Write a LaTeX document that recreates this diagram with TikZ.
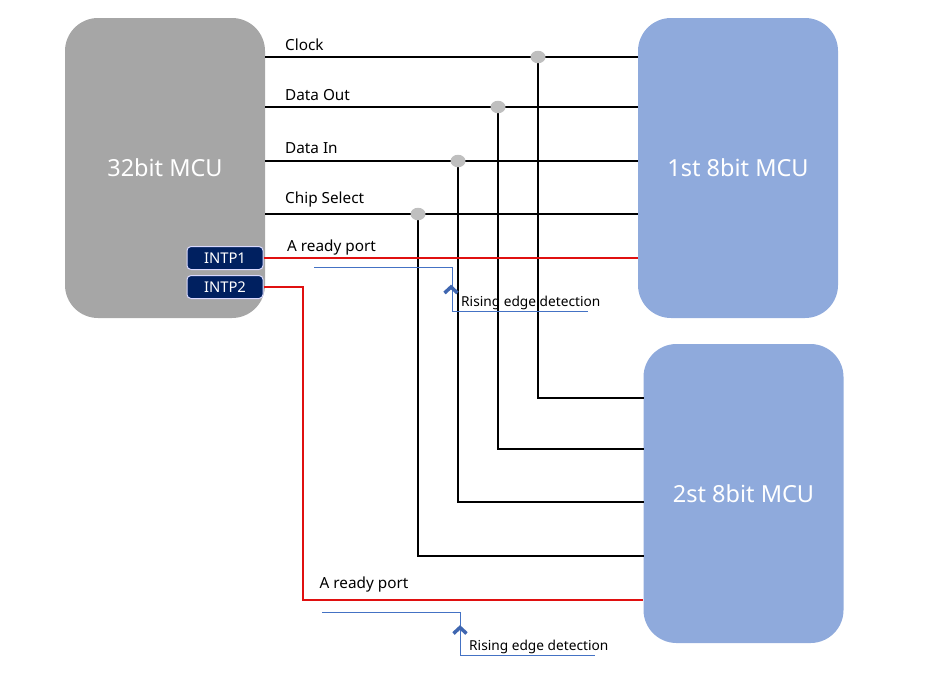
\documentclass[tikz,border=0pt]{standalone}
\usepackage{fontspec}
\setmainfont{Noto Sans}
\usetikzlibrary{shapes.geometric}
\definecolor{mcugray}{HTML}{A6A6A6}
\definecolor{mcublue}{HTML}{8FAADC}
\definecolor{navy}{HTML}{002060}
\definecolor{sigred}{HTML}{E01010}
\definecolor{edgeblue}{HTML}{4472C4}
\definecolor{chevblue}{HTML}{3F66B0}
\definecolor{dotgray}{HTML}{BFBFBF}
\tikzset{
  mcubox/.style={rounded corners=33pt, minimum width=200pt, inner sep=0pt, text=white,
    font=\fontsize{23.5}{28}\selectfont},
  intpbox/.style={fill=navy, draw=white!85!blue, line width=1pt, rounded corners=4pt,
    minimum width=76pt, minimum height=23pt, inner sep=0pt, text=white,
    font=\fontsize{14.8}{17}\selectfont},
  sigline/.style={draw=black, line width=2pt},
  redline/.style={draw=sigred, line width=2pt},
  edgeline/.style={draw=edgeblue, line width=1.1pt},
  chev/.style={draw=chevblue, line width=3.5pt, line join=miter, line cap=butt},
  junction/.style={ellipse, fill=dotgray, minimum width=15pt, minimum height=12.5pt, inner sep=0pt},
  lbl/.style={anchor=base west, inner sep=0pt, font=\fontsize{15.3}{18}\selectfont},
  small/.style={anchor=base west, inner sep=0pt, font=\fontsize{13.7}{16}\selectfont}
}
\begin{document}
\begin{tikzpicture}[x=1pt,y=-1pt]
\useasboundingbox (0,0) rectangle (933,673);
% boxes
\node[mcubox, fill=mcugray, minimum height=300pt] (mcu) at (165,168) {32bit MCU};
\node[mcubox, fill=mcublue, minimum height=300pt] (m1) at (738,168) {1st 8bit MCU};
\node[mcubox, fill=mcublue, minimum height=299pt] (m2) at (743.5,493.5) {2st 8bit MCU};
\node[intpbox] (i1) at (225,258) {INTP1};
\node[intpbox] (i2) at (225,287) {INTP2};
% junction coordinates
\coordinate (pclk) at (538,57);
\coordinate (pdo) at (498,107);
\coordinate (pdi) at (458,161);
\coordinate (pcs) at (418,214);
\coordinate (qclk) at (644,398);
\coordinate (qdo) at (644,449);
\coordinate (qdi) at (644,502);
\coordinate (qcs) at (644,556);
% bus lines
\draw[sigline] (mcu.east |- pclk) -- (m1.west |- pclk);
\draw[sigline] (mcu.east |- pdo) -- (m1.west |- pdo);
\draw[sigline] (mcu.east |- pdi) -- (m1.west |- pdi);
\draw[sigline] (mcu.east |- pcs) -- (m1.west |- pcs);
\draw[sigline] (pclk) |- (qclk);
\draw[sigline] (pdo) |- (qdo);
\draw[sigline] (pdi) |- (qdi);
\draw[sigline] (pcs) |- (qcs);
\node[junction] (dclk) at (pclk) {};
\node[junction] (ddo) at (pdo) {};
\node[junction] (ddi) at (pdi) {};
\node[junction] (dcs) at (pcs) {};
% ready lines
\coordinate (rc) at (303,600);
\draw[redline] (i1.east) -- (m1.west |- i1.east);
\draw[redline] (i2.east) -| (rc) -- (m2.west |- rc);
% labels
\node[lbl] (tclk) at (285,50) {Clock};
\node[lbl] (tdo) at (285,100) {Data Out};
\node[lbl] (tdi) at (285,153.5) {Data In};
\node[lbl] (tcs) at (285,203.5) {Chip Select};
\node[lbl] (tr1) at (287,251) {A ready port};
\node[lbl] (tr2) at (319.5,588.5) {A ready port};
% rising edge 1
\coordinate (e1a) at (314,267.5);
\coordinate (e1b) at (452.5,311.5);
\coordinate (e1c) at (588,311.5);
\draw[edgeline] (e1a) -| (e1b) -- (e1c);
\draw[chev] (444.5,293) -- (451,287) -- (457.5,293);
\node[small] (te1) at (461,306) {Rising edge detection};
% rising edge 2
\coordinate (e2a) at (322,612.5);
\coordinate (e2b) at (460.5,655.5);
\coordinate (e2c) at (595,655.5);
\draw[edgeline] (e2a) -| (e2b) -- (e2c);
\draw[chev] (453.5,633.5) -- (460,627.5) -- (466.5,633.5);
\node[small] (te2) at (469,650) {Rising edge detection};
\end{tikzpicture}
\end{document}
